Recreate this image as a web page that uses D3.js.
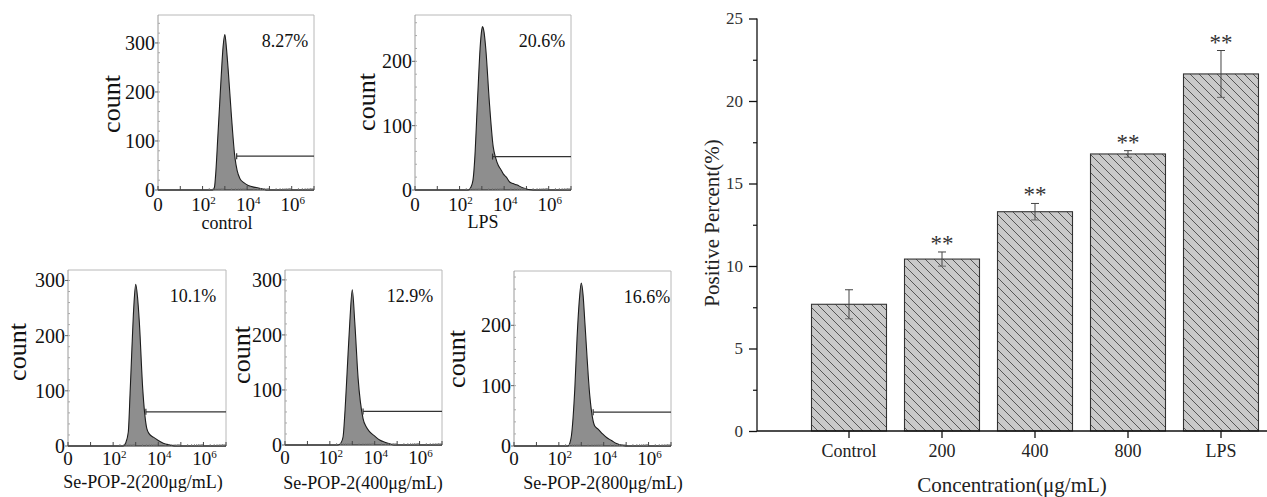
<!DOCTYPE html>
<html>
<head>
<meta charset="utf-8">
<script src="https://cdn.jsdelivr.net/npm/d3@7"></script>
<style>
  html, body { margin: 0; padding: 0; background: #fff; }
  svg { display: block; }
  text { font-family: "Liberation Serif", "Times New Roman", serif; fill: #111; }
</style>
</head>
<body>
<svg id="chart" width="1267" height="497"></svg>
<script>
// ---------------- DATA ----------------
// Flow cytometry histograms: x = log10 fluorescence, y = count
const controlLog   = [0, 2.45, 2.53, 2.60, 2.68, 2.76, 2.84, 2.92, 3.00, 3.07, 3.15, 3.30, 3.45, 3.55, 3.68, 3.85, 4.05, 4.40, 4.72, 4.90, 7];
const controlCount = [0, 0,    5,    40,   105,  170,  235,  292,  317,  290,  245,  148,  67,   40,   23,   15,   9,    5,    2,    0,    0];

const lpsLog   = [0, 2.39, 2.50, 2.60, 2.70, 2.77, 2.84, 2.92, 3.00, 3.03, 3.10, 3.18, 3.33, 3.51, 3.62, 3.74, 3.85, 3.96, 4.10, 4.26, 4.40, 4.56, 4.86, 5.30, 7];
const lpsCount = [0, 0,    4,    15,   60,   113,  165,  220,  250,  254,  245,  218,  140,  67,   50,   38,   32,   25,   20,   12,   10,   8,    3,    0,    0];

const se200Log   = [0, 2.44, 2.55, 2.67, 2.75, 2.82, 2.92, 3.00, 3.08, 3.16, 3.31, 3.49, 3.60, 3.78, 4.00, 4.22, 4.50, 4.80, 7];
const se200Count = [0, 0,    5,    25,   95,   165,  256,  293,  270,  225,  104,  32,   22,   16,   10,   5,    2,    0,    0];

const se400Log   = [0, 2.37, 2.50, 2.59, 2.68, 2.77, 2.89, 3.00, 3.11, 3.26, 3.48, 3.62, 3.78, 4.00, 4.22, 4.45, 4.67, 4.85, 7];
const se400Count = [0, 0,    4,    15,   65,   133,  224,  282,  224,  121,  48,   33,   24,   16,   9,    5,    2,    0,    0];

const se800Log   = [0, 2.41, 2.50, 2.56, 2.71, 2.81, 2.92, 3.00, 3.08, 3.16, 3.38, 3.60, 3.75, 3.95, 4.13, 4.35, 4.57, 4.85, 5.09, 7];
const se800Count = [0, 0,    6,    17,   94,   178,  245,  270,  250,  205,  83,   33,   28,   20,   14,   9,    4,    1,    0,    0];

const panelNames    = ["control", "LPS", "Se-POP-2(200μg/mL)", "Se-POP-2(400μg/mL)", "Se-POP-2(800μg/mL)"];
const panelPercents = ["8.27%", "20.6%", "10.1%", "12.9%", "16.6%"];
const panelYMax     = [357, 272, 319, 318, 290];
const panelYTicks   = [[0, 100, 200, 300], [0, 100, 200], [0, 100, 200, 300], [0, 100, 200, 300], [0, 100, 200]];
const gateStart     = [3.53, 3.48, 3.45, 3.48, 3.53];
const gateLevel     = [69, 52, 62, 61, 56];
const histXTicks    = [0, 2, 4, 6];
const histXTickExp  = ["", "2", "4", "6"];   // "0", "10²", "10⁴", "10⁶"
const histXMax      = 7;

// Bar chart
const concCategories = ["Control", "200", "400", "800", "LPS"];
const positiveMeans  = [7.68, 10.42, 13.29, 16.79, 21.64];
const positiveErrors = [0.88, 0.43, 0.50, 0.20, 1.42];
const sigMarks       = ["", "**", "**", "**", "**"];
const barYTicks      = [0, 5, 10, 15, 20, 25];
const barYMinor      = [2.5, 7.5, 12.5, 17.5, 22.5];

// ---------------- LAYOUT ----------------
const svg = d3.select("#chart");

const histLogs   = [controlLog, lpsLog, se200Log, se400Log, se800Log];
const histCounts = [controlCount, lpsCount, se200Count, se400Count, se800Count];

const panelLayout = [
  {left: 158, top: 15,  width: 156, height: 175, countX: 112, countY: 104, subX: 227, subY: 223, pctX: 285, xlabDy: 14},
  {left: 415, top: 15,  width: 156, height: 175, countX: 367, countY: 102, subX: 483, subY: 222, pctX: 542, xlabDy: 14},
  {left: 68,  top: 270, width: 158, height: 176, countX: 18,  countY: 352, subX: 143, subY: 482, pctX: 193, xlabDy: 12},
  {left: 285, top: 270, width: 157, height: 175, countX: 242, countY: 355, subX: 363, subY: 483, pctX: 410, xlabDy: 12},
  {left: 514, top: 271, width: 157, height: 175, countX: 457, countY: 359, subX: 603, subY: 483, pctX: 647, xlabDy: 12}
];

panelLayout.forEach((L, i) => {
  const g = svg.append("g");
  const x = d3.scaleLinear().domain([0, histXMax]).range([L.left, L.left + L.width]);
  const y = d3.scaleLinear().domain([0, panelYMax[i]]).range([L.top + L.height, L.top]);
  const bottom = L.top + L.height;
  const right = L.left + L.width;

  // frame top/right
  g.append("path")
    .attr("d", `M${L.left},${L.top}H${right}V${bottom}`)
    .attr("fill", "none").attr("stroke", "#b8b8b8").attr("stroke-width", 1);

  // histogram
  const pts = histLogs[i].map((v, k) => [v, histCounts[i][k]]);
  const area = d3.area().x(d => x(d[0])).y0(y(0)).y1(d => y(d[1])).curve(d3.curveMonotoneX);
  const line = d3.line().x(d => x(d[0])).y(d => y(d[1])).curve(d3.curveMonotoneX);
  g.append("path").attr("d", area(pts)).attr("fill", "#8e8e8e");
  g.append("path").attr("d", line(pts)).attr("fill", "none").attr("stroke", "#1c1c1c").attr("stroke-width", 1.1);

  // left axis (light)
  g.append("line").attr("x1", L.left).attr("x2", L.left).attr("y1", L.top).attr("y2", bottom)
    .attr("stroke", "#9a9a9a").attr("stroke-width", 1);
  d3.range(20, panelYMax[i], 20).forEach(v => {
    g.append("line").attr("x1", L.left).attr("x2", L.left + 2).attr("y1", y(v)).attr("y2", y(v))
      .attr("stroke", "#aaa").attr("stroke-width", 1);
  });
  panelYTicks[i].forEach(v => {
    g.append("line").attr("x1", L.left - 3).attr("x2", L.left).attr("y1", y(v)).attr("y2", y(v))
      .attr("stroke", "#666").attr("stroke-width", 1);
    g.append("text").attr("x", L.left - 3).attr("y", y(v)).attr("dy", "0.35em")
      .attr("text-anchor", "end").attr("font-size", 20).text(v);
  });

  // bottom axis (dark)
  g.append("line").attr("x1", L.left).attr("x2", right).attr("y1", bottom).attr("y2", bottom)
    .attr("stroke", "#222").attr("stroke-width", 1.2);
  for (let k = 2; k < histXMax; k++) {
    for (let m = 2; m <= 9; m++) {
      const v = k + Math.log10(m);
      if (v < histXMax) {
        g.append("line").attr("x1", x(v)).attr("x2", x(v)).attr("y1", bottom).attr("y2", bottom - 2)
          .attr("stroke", "#777").attr("stroke-width", 0.8);
      }
    }
  }
  d3.range(0, histXMax + 1).forEach(v => {
    g.append("line").attr("x1", x(v)).attr("x2", x(v)).attr("y1", bottom).attr("y2", bottom - 4)
      .attr("stroke", "#444").attr("stroke-width", 1);
  });
  histXTicks.forEach((v, k) => {
    const t = g.append("text").attr("x", x(v) + (k === 0 ? 0 : 1)).attr("y", bottom + L.xlabDy).attr("dy", "0.35em")
      .attr("text-anchor", "middle").attr("font-size", 19);
    if (histXTickExp[k] === "") {
      t.text("0");
    } else {
      t.append("tspan").text("10");
      t.append("tspan").attr("font-size", 11).attr("dy", "-0.6em").text(histXTickExp[k]);
    }
  });

  // gate
  const gy = y(gateLevel[i]);
  g.append("line").attr("x1", x(gateStart[i])).attr("x2", right).attr("y1", gy).attr("y2", gy)
    .attr("stroke", "#333").attr("stroke-width", 1.2);
  g.append("line").attr("x1", x(gateStart[i])).attr("x2", x(gateStart[i])).attr("y1", gy - 3).attr("y2", gy + 3)
    .attr("stroke", "#333").attr("stroke-width", 1.2);

  // texts
  g.append("text").attr("x", L.pctX).attr("y", L.top + 26).attr("dy", "0.35em")
    .attr("text-anchor", "middle").attr("font-size", 18).text(panelPercents[i]);
  g.append("text").attr("transform", `translate(${L.countX},${L.countY}) rotate(-90)`)
    .attr("dy", "0.3em").attr("text-anchor", "middle").attr("font-size", 26).text("count");
  g.append("text").attr("x", L.subX).attr("y", L.subY).attr("dy", "0.35em")
    .attr("text-anchor", "middle").attr("font-size", 18).text(panelNames[i]);
});

// ---------------- BAR CHART ----------------
const bx = d3.scaleBand().domain(concCategories).range([802.5, 1267.5]).paddingInner(0.1935).paddingOuter(0.0968);
const by = d3.scaleLinear().domain([0, 25]).range([431, 18.5]);
const axisX0 = 757;

const defs = svg.append("defs");
const pat = defs.append("pattern").attr("id", "hatch").attr("patternUnits", "userSpaceOnUse")
  .attr("width", 9).attr("height", 9);
pat.append("rect").attr("width", 9).attr("height", 9).attr("fill", "#c9c9c9");
pat.append("path").attr("d", "M0,0L9,9M-1,8L1,10M8,-1L10,1")
  .attr("stroke", "#4a4a4a").attr("stroke-width", 0.9).attr("fill", "none");

const bg = svg.append("g");
bg.selectAll("rect.bar").data(concCategories).join("rect").attr("class", "bar")
  .attr("x", d => bx(d)).attr("width", bx.bandwidth())
  .attr("y", (d, i) => by(positiveMeans[i])).attr("height", (d, i) => by(0) - by(positiveMeans[i]))
  .attr("fill", "url(#hatch)").attr("stroke", "#333").attr("stroke-width", 1.1);

// error bars
concCategories.forEach((c, i) => {
  const cx = bx(c) + bx.bandwidth() / 2;
  const top = by(positiveMeans[i] + positiveErrors[i]);
  const bot = by(positiveMeans[i] - positiveErrors[i]);
  bg.append("line").attr("x1", cx).attr("x2", cx).attr("y1", top).attr("y2", bot).attr("stroke", "#444").attr("stroke-width", 1);
  bg.append("line").attr("x1", cx - 4).attr("x2", cx + 4).attr("y1", top).attr("y2", top).attr("stroke", "#444").attr("stroke-width", 1);
  bg.append("line").attr("x1", cx - 4).attr("x2", cx + 4).attr("y1", bot).attr("y2", bot).attr("stroke", "#666").attr("stroke-width", 1);
  if (sigMarks[i]) {
    bg.append("text").attr("x", cx).attr("y", top - 1).attr("text-anchor", "middle")
      .attr("font-size", 23).style("fill", "#333").text(sigMarks[i]);
  }
});

// y axis
const yAxis = d3.axisLeft(by).tickValues(barYTicks).tickSize(8).tickPadding(6).tickFormat(d3.format("d"));
const yg = svg.append("g").attr("transform", `translate(${axisX0},0)`).call(yAxis);
yg.select(".domain").attr("stroke", "#111").attr("stroke-width", 1.3).attr("d", `M0,${by(25)}V${by(0)}`);
yg.selectAll(".tick line").attr("stroke", "#111").attr("stroke-width", 1.3);
yg.selectAll(".tick text").attr("font-size", 17).style("fill", "#333");
const yMinor = d3.axisLeft(by).tickValues(barYMinor).tickSize(4).tickFormat("");
const ymg = svg.append("g").attr("transform", `translate(${axisX0},0)`).call(yMinor);
ymg.select(".domain").remove();
ymg.selectAll(".tick line").attr("stroke", "#111").attr("stroke-width", 1.2);

// x axis
const xAxis = d3.axisBottom(bx).tickSize(7).tickPadding(6);
const xg = svg.append("g").attr("transform", `translate(0,${by(0)})`).call(xAxis);
xg.select(".domain").attr("d", `M${axisX0},0H1267`).attr("stroke", "#111").attr("stroke-width", 1.3);
xg.selectAll(".tick line").attr("stroke", "#111").attr("stroke-width", 1.3);
xg.selectAll(".tick text").attr("font-size", 18).style("fill", "#222");

// titles
svg.append("text").attr("transform", `translate(719,223) rotate(-90)`).attr("text-anchor", "middle")
  .attr("font-size", 21).style("fill", "#222").text("Positive Percent(%)");
svg.append("text").attr("x", 1012).attr("y", 492).attr("text-anchor", "middle")
  .attr("font-size", 21).style("fill", "#222").text("Concentration(μg/mL)");
</script>
</body>
</html>
